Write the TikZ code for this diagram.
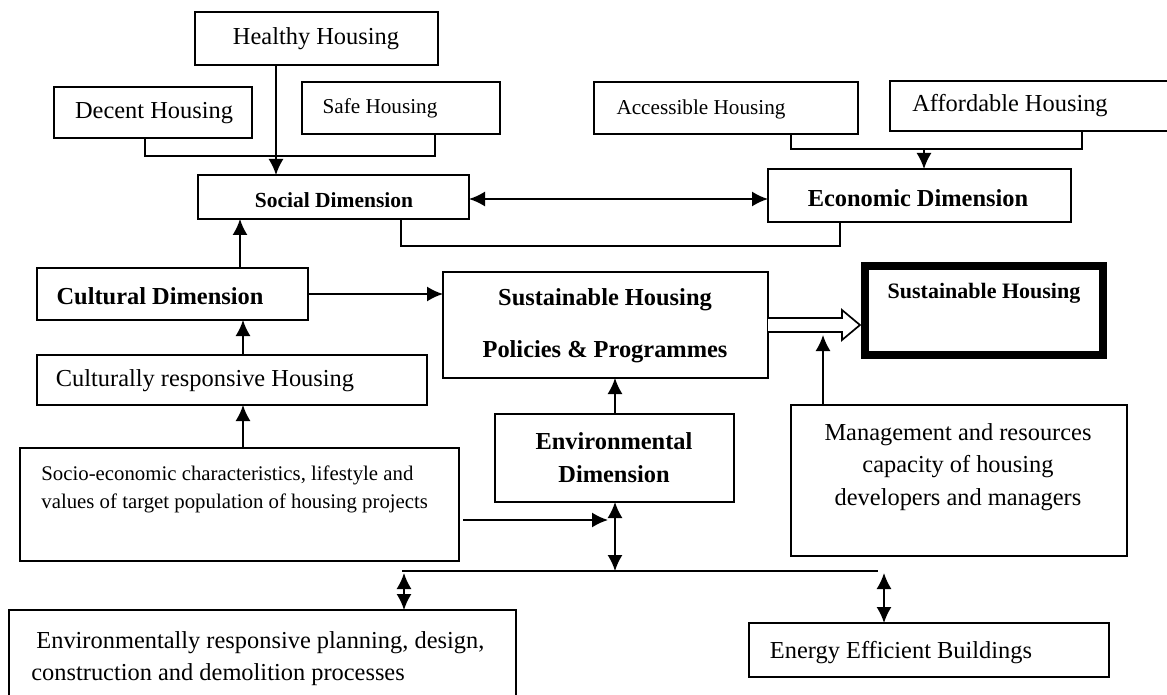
\documentclass[tikz,border=0pt]{standalone}
\usepackage{fontspec}
\setmainfont{Liberation Serif}
\usetikzlibrary{arrows.meta,calc}
\newcommand{\bx}[6][]{\node[box,#1,minimum width={(#5-#3)*0.5pt},minimum height={(#6-#4)*0.5pt}] (#2) at ({(#3+#5)/2},{(#4+#6)/2}) {};}
\tikzset{
 box/.style={draw, line width=0.85pt, inner sep=0pt, outer sep=0pt, rectangle},
 lbl/.style={inner sep=0pt, font=\fontsize{12.2}{14.6}\selectfont},
 sml/.style={inner sep=0pt, font=\fontsize{10.6}{12.7}\selectfont},
 ln/.style={line width=0.85pt},
 arr/.style={ln, -{Latex[length=8pt,width=7.5pt]}},
 darr/.style={ln, {Latex[length=8pt,width=7.5pt]}-{Latex[length=8pt,width=7.5pt]}},
}
\begin{document}
\begin{tikzpicture}[x=0.5pt,y=-0.5pt]
\path[use as bounding box, fill=white] (0,0) rectangle (1167,695);
% boxes
\bx{healthy}{195}{12}{438}{65}
\bx{decent}{54}{87}{252}{138}
\bx{safe}{302}{82}{500}{134}
\bx{access}{594}{82}{858}{134}
\bx{afford}{890}{81}{1180}{131}
\bx{social}{198}{175}{469}{219}
\bx{econ}{768}{169}{1071}{222}
\bx{cult}{37}{268}{308}{320}
\bx{policies}{443}{272}{768}{378}
\bx[line width=4pt]{sust}{865}{266}{1103}{355}
\bx{culresp}{37}{355}{427}{405}
\bx{envdim}{495}{414}{734}{502}
\bx{mgmt}{791}{405}{1127}{556}
\bx{socio}{20}{448}{459}{561}
\bx{envresp}{9}{610}{516}{720}
\bx{energy}{749}{623}{1109}{677}
% texts
\node[lbl] (healthyT) at (316,39) {Healthy Housing};
\node[lbl] (decentT) at (154,113) {Decent Housing};
\node[sml] (safeT) at (380,108) {Safe Housing};
\node[sml] (accessT) at (701,109) {Accessible Housing};
\node[lbl] (affordT) at (1010,106) {Affordable Housing};
\node[inner sep=0pt, font=\fontsize{10.75}{13}\selectfont\bfseries] (socialT) at (334,200) {Social Dimension};
\node[lbl, font=\fontsize{12.2}{14.6}\selectfont\bfseries] (econT) at (918,198) {Economic Dimension};
\node[lbl, font=\fontsize{12.2}{14.6}\selectfont\bfseries] (cultT) at (160,296) {Cultural Dimension};
\node[inner sep=0pt, align=center, font=\fontsize{12.2}{26}\selectfont\bfseries] (polT) at (605,326) {Sustainable Housing\\Policies \& Programmes};
\node[inner sep=0pt, font=\fontsize{11}{13}\selectfont\bfseries] (sustT) at (984,293) {Sustainable Housing};
\node[lbl] (culrespT) at (205,381) {Culturally responsive Housing};
\node[inner sep=0pt, align=center, font=\fontsize{12.2}{16.5}\selectfont\bfseries] (envdimT) at (614,458) {Environmental\\Dimension};
\node[inner sep=0pt, align=center, font=\fontsize{12.2}{16.25}\selectfont] (mgmtT) at (958,467) {Management and resources\\capacity of housing\\developers and managers};
\node[inner sep=0pt, align=left, anchor=west, font=\fontsize{10.4}{14}\selectfont] (socioT) at (41,489) {Socio-economic characteristics, lifestyle and\\values of target population of housing projects};
\node[inner sep=0pt, align=left, anchor=west, font=\fontsize{12.2}{16}\selectfont] (envrespT) at (31,659) {\hspace*{2.5pt}Environmentally responsive planning, design,\\construction and demolition processes};
\node[lbl] (energyT) at (901,653) {Energy Efficient Buildings};
% connectors
\coordinate (hx) at (276,0);
\draw[arr] (healthy.south -| hx) -- (social.north -| hx);
\coordinate (dsL) at (145,156); \coordinate (dsR) at (435,156);
\draw[ln] (decent.south -| dsL) -- (dsL) -- (dsR) -- (safe.south -| dsR);
\coordinate (aaL) at (791,149); \coordinate (aaR) at (1082,149); \coordinate (aaM) at (924,149);
\draw[ln] (access.south -| aaL) -- (aaL) -- (aaR) -- (afford.south -| aaR);
\draw[arr] (aaM) -- (econ.north -| aaM);
\coordinate (se) at (0,199);
\draw[darr] (social.east |- se) -- (econ.west |- se);
\coordinate (sbL) at (401,246); \coordinate (sbR) at (840,246);
\draw[ln] (social.south -| sbL) -- (sbL) -- (sbR) -- (econ.south -| sbR);
\coordinate (cx) at (240,0);
\draw[arr] (cult.north -| cx) -- (social.south -| cx);
\draw[arr] (cult.east) -- (policies.west |- cult.east);
\coordinate (crx) at (243,0);
\draw[arr] (culresp.north -| crx) -- (cult.south -| crx);
\draw[arr] (socio.north -| crx) -- (culresp.south -| crx);
\coordinate (ex) at (615,0);
\draw[arr] (envdim.north -| ex) -- (policies.south -| ex);
\coordinate (sj0) at (463,520); \coordinate (sj1) at (608,520);
\draw[arr] (sj0) -- (sj1);
\coordinate (bus) at (615,571); \coordinate (busL) at (402,571); \coordinate (busR) at (878,571);
\draw[darr] (envdim.south -| ex) -- (bus);
\draw[ln] (busL) -- (busR);
\coordinate (lx) at (404,573); \coordinate (rx) at (884,573);
\draw[darr] (lx) -- (envresp.north -| lx);
\draw[darr] (rx) -- (energy.north -| rx);
\coordinate (mt) at (823,335);
\draw[arr] (mgmt.north -| mt) -- (mt);
\draw[line width=0.85pt, fill=white] ($(policies.east)+(0,-7)$) -- ++(74,0) -- ++(0,-8) -- ($(policies.east)+(92,0)$) -- ($(policies.east)+(74,15)$) -- ++(0,-8) -- ($(policies.east)+(0,7)$);
\end{tikzpicture}
\end{document}
